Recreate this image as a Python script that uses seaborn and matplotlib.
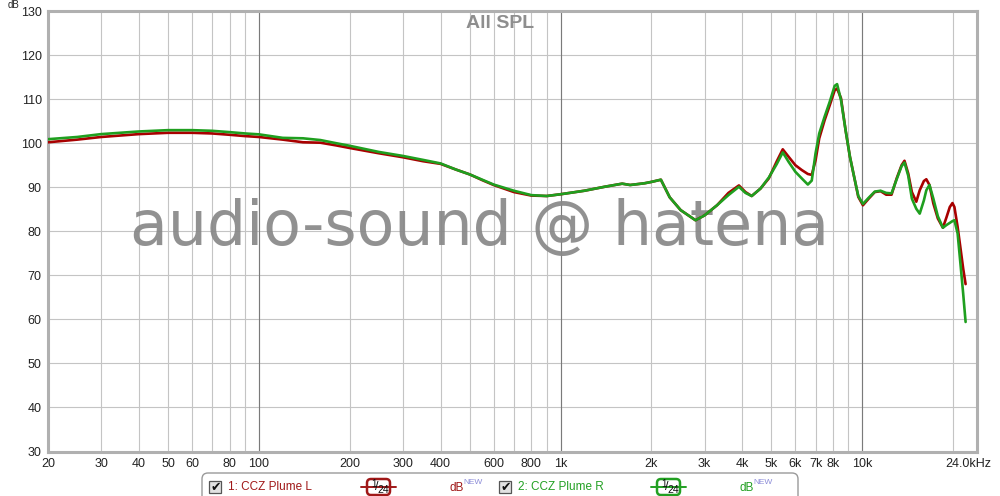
import numpy as np
import pandas as pd
import matplotlib
matplotlib.use('Agg')
import matplotlib.pyplot as plt
import seaborn as sns
from matplotlib.patches import FancyBboxPatch, Rectangle
from matplotlib.lines import Line2D
from matplotlib.ticker import FixedLocator, LogLocator, NullFormatter
from matplotlib.transforms import ScaledTranslation


# DATA

FREQ_HZ = [20, 25, 30, 40, 50, 60, 70, 80, 90, 100,
           120, 140, 160, 180, 200, 250, 300, 350, 400, 450,
           500, 550, 600, 700, 800, 900, 1000, 1200, 1400, 1600,
           1700, 1800, 1900, 2000, 2150, 2300, 2500, 2800, 3000, 3300,
           3600, 3900, 4100, 4300, 4600, 4900, 5200, 5450, 5700, 6000,
           6300, 6600, 6800, 7000, 7200, 7500, 7800, 8100, 8250, 8500,
           8800, 9100, 9400, 9700, 10050, 10500, 11000, 11500, 12000, 12500,
           13000, 13500, 13800, 14200, 14600, 15100, 15500, 16000, 16300, 16700,
           17200, 17800, 18500, 19000, 19500, 19900, 20200, 20700, 21200, 21600,
           22000]

SPL_L = [100.2, 100.8, 101.4, 102.05, 102.35, 102.35, 102.2, 101.9, 101.6, 101.4,
         100.8, 100.2, 100.1, 99.5, 98.9, 97.7, 96.8, 95.9, 95.3, 94.0,
         92.9, 91.6, 90.5, 88.9, 88.1, 88.0, 88.4, 89.2, 90.1, 90.8,
         90.5, 90.7, 90.9, 91.2, 91.7, 87.7, 84.8, 82.5, 83.6, 85.9,
         88.7, 90.4, 88.9, 88.0, 89.7, 92.0, 95.8, 98.6, 96.9, 95.0,
         93.9, 93.0, 92.8, 96.1, 101.1, 105.2, 108.6, 112.0, 112.4, 110.2,
         103.0, 96.9, 92.3, 87.8, 85.9, 87.4, 88.9, 89.1, 88.3, 88.3,
         92.0, 95.0, 96.0, 93.1, 88.9, 86.7, 89.3, 91.4, 91.8, 90.5,
         86.3, 82.9, 80.8, 83.1, 85.5, 86.4, 85.5, 81.0, 75.7, 71.5,
         68.0]

SPL_R = [100.9, 101.4, 102.05, 102.65, 102.95, 102.95, 102.8, 102.5, 102.2, 102.0,
         101.2, 101.1, 100.7, 100.0, 99.4, 98.0, 97.1, 96.2, 95.4, 94.0,
         92.9, 91.7, 90.6, 89.2, 88.2, 88.0, 88.4, 89.2, 90.1, 90.8,
         90.5, 90.7, 90.9, 91.2, 91.7, 87.7, 84.8, 82.5, 83.6, 85.9,
         88.2, 90.1, 88.7, 88.0, 89.7, 92.2, 95.2, 97.9, 95.75, 93.5,
         92.0, 90.6, 91.5, 97.7, 102.2, 106.0, 109.4, 113.0, 113.4, 109.8,
         103.0, 96.9, 92.3, 88.0, 86.2, 87.6, 89.0, 89.2, 88.7, 88.6,
         91.8, 94.8, 95.6, 92.6, 87.4, 85.1, 84.0, 87.0, 89.3, 90.5,
         87.4, 83.4, 80.8, 81.4, 81.9, 82.3, 82.5, 79.5, 71.9, 65.8,
         59.4]

CHANNELS = ['1: CCZ Plume L', '2: CCZ Plume R']

X_TICKS = [20, 30, 40, 50, 60, 80, 100, 200, 300, 400, 600, 800,
           1000, 2000, 3000, 4000, 5000, 6000, 7000, 8000, 10000, 24000]
X_TICK_LABELS = ['20', '30', '40', '50', '60', '80', '100', '200', '300', '400',
                 '600', '800', '1k', '2k', '3k', '4k', '5k', '6k', '7k', '8k',
                 '10k', '24.0kHz']
Y_TICKS = [30, 40, 50, 60, 70, 80, 90, 100, 110, 120, 130]
DECADES = [100, 1000, 10000]

RED = '#a80000'
GREEN = '#1f9f1f'

df = pd.concat([
    pd.DataFrame({'freq': FREQ_HZ, 'spl': SPL_L, 'channel': CHANNELS[0]}),
    pd.DataFrame({'freq': FREQ_HZ, 'spl': SPL_R, 'channel': CHANNELS[1]}),
], ignore_index=True)


# FIGURE

sns.set_style('white')
plt.rcParams['font.family'] = ['Liberation Sans', 'DejaVu Sans']

W, H = 1000, 496
fig = plt.figure(figsize=(W / 100, H / 100), dpi=100)
ax = fig.add_axes([48 / W, 1 - 451.5 / H, 929 / W, 440.5 / H])
PXT = fig.dpi_scale_trans   # inches, so pixel / 100


def px(x, y):
    # pixel position (from top-left) -> figure fraction
    return x / W, 1 - y / H


def pin(x, y):
    # pixel position (from top-left) -> inches from bottom-left
    return x / 100, (H - y) / 100


sns.lineplot(data=df, x='freq', y='spl', hue='channel', hue_order=CHANNELS,
             palette={CHANNELS[0]: RED, CHANNELS[1]: GREEN},
             linewidth=1.9, legend=False, sort=False, ax=ax, zorder=3)

ax.set_xscale('log')
ax.set_xlim(20, 24000)
ax.set_ylim(30, 130)
ax.set_xlabel('')
ax.set_ylabel('')

ax.xaxis.set_major_locator(FixedLocator(X_TICKS))
ax.set_xticklabels(X_TICK_LABELS)
ax.xaxis.set_minor_locator(LogLocator(base=10, subs=np.arange(1, 10)))
ax.xaxis.set_minor_formatter(NullFormatter())
ax.set_yticks(Y_TICKS)
ax.tick_params(axis='both', which='both', length=0, labelsize=9, colors='#222222')
ax.tick_params(axis='x', pad=5)
ax.tick_params(axis='y', pad=4.5)

# last label sits a little left of the right edge
lbl = ax.get_xticklabels()[-1]
lbl.set_transform(lbl.get_transform() + ScaledTranslation(-6 / 72, 0, fig.dpi_scale_trans))

ax.grid(True, which='both', axis='x', color='#c4c4c4', linewidth=0.8)
ax.grid(True, which='major', axis='y', color='#c4c4c4', linewidth=0.8)
for d in DECADES:
    ax.axvline(d, color='#7a7a7a', linewidth=0.8, zorder=1)

for side, sp in ax.spines.items():
    sp.set_color('#b0b0b0')
    sp.set_linewidth(2.2)


# TEXTS

fig.text(*px(500, 15), 'All SPL', ha='center', va='top',
         fontsize=14, fontweight='bold', color='#8e8e8e')
fig.text(*px(13, 0.5), 'dB', ha='center', va='top', fontsize=7, color='#222222')

ax.text(*px(480, 245), 'audio-sound @ hatena', transform=fig.transFigure,
        ha='center', va='baseline', fontsize=44.5, family='DejaVu Sans',
        color='#888888', alpha=0.92, zorder=2)


# LEGEND BOX

fig.add_artist(FancyBboxPatch(pin(202, 505), 5.96, 0.32,
                              boxstyle='round,pad=0,rounding_size=0.06',
                              transform=PXT, facecolor='white',
                              edgecolor='#9a9a9a', linewidth=1.0))


def legend_entry(x0, label, color):
    # checkbox
    fig.add_artist(Rectangle(pin(x0, 493), 0.12, 0.12, transform=PXT,
                             facecolor='#e2e2e2', edgecolor='#555555', linewidth=0.9))
    fig.text(*px(x0 + 6.5, 487), '\u2714', ha='center', va='center',
             fontsize=9, family='DejaVu Sans', color='#111111')
    fig.text(*px(x0 + 19, 487), label, ha='left', va='center', fontsize=8.5, color=color)
    # smoothing badge
    bx = x0 + 152
    x_a, y_a = pin(bx, 487)
    x_b, _ = pin(bx + 35, 487)
    fig.add_artist(Line2D([x_a, x_b], [y_a, y_a], transform=PXT,
                          color=color, linewidth=1.4))
    fig.add_artist(FancyBboxPatch(pin(bx + 6, 495), 0.23, 0.16,
                                  boxstyle='round,pad=0,rounding_size=0.04',
                                  transform=PXT, facecolor='white',
                                  edgecolor=color, linewidth=1.8))
    fig.text(*px(bx + 12.5, 484), '1', ha='center', va='center',
             fontsize=7, color='#111111')
    fig.text(*px(bx + 16, 487), '/', ha='center', va='center',
             fontsize=9, color='#111111')
    fig.text(*px(bx + 22, 490), '24', ha='center', va='center',
             fontsize=7.5, color='#111111')
    # dB NEW
    fig.text(*px(x0 + 240, 488), 'dB', ha='left', va='center', fontsize=8.5, color=color)
    fig.text(*px(x0 + 254, 483), 'NEW', ha='left', va='center', fontsize=6, color='#8c8cd8')


legend_entry(209, CHANNELS[0], '#a01818')
legend_entry(499, CHANNELS[1], '#22a022')

fig.savefig('out.png', dpi=100)
